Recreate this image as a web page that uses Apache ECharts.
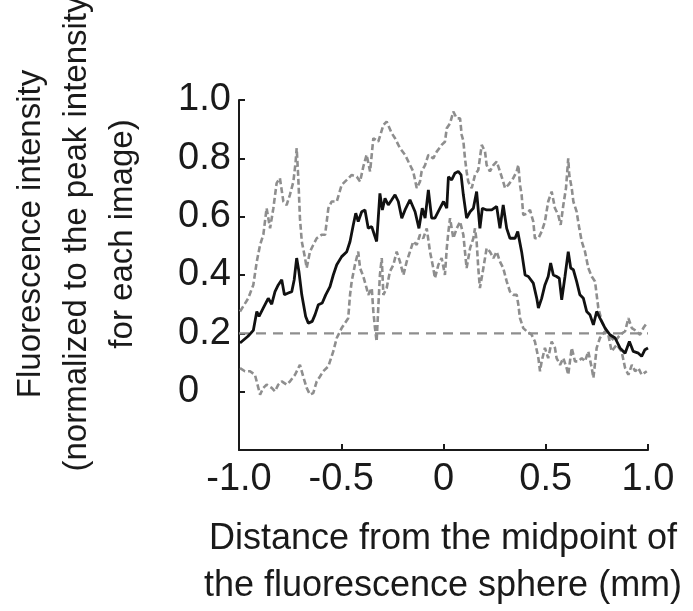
<!DOCTYPE html>
<html>
<head>
<meta charset="utf-8">
<script src="https://cdn.jsdelivr.net/npm/echarts@6/dist/echarts.min.js"></script>
<style>html,body{margin:0;padding:0;background:#fff}#c{width:693px;height:611px}</style>
</head>
<body>
<div id="c"></div>
<script>
// ---- data ----
const xTicks = [-1.0, -0.5, 0, 0.5, 1.0];
const yTicks = [0, 0.2, 0.4, 0.6, 0.8, 1.0];
const thresholdX = [-1, 1];
const thresholdY = [0.2, 0.2];

const meanX = [-0.995,-0.956,-0.930,-0.913,-0.902,-0.881,-0.857,-0.840,-0.824,-0.808,-0.791,-0.778,-0.759,-0.742,-0.730,-0.718,-0.707,-0.693,-0.674,-0.661,-0.642,-0.628,-0.612,-0.593,-0.576,-0.555,-0.539,-0.522,-0.498,-0.473,-0.457,-0.441,-0.429,-0.417,-0.400,-0.384,-0.368,-0.351,-0.338,-0.327,-0.319,-0.311,-0.299,-0.286,-0.270,-0.253,-0.237,-0.221,-0.204,-0.188,-0.164,-0.139,-0.120,-0.104,-0.090,-0.074,-0.058,-0.042,-0.017,0.000,0.016,0.024,0.040,0.056,0.072,0.086,0.097,0.113,0.130,0.146,0.162,0.178,0.190,0.211,0.236,0.260,0.276,0.292,0.309,0.325,0.350,0.363,0.382,0.399,0.415,0.439,0.456,0.464,0.480,0.496,0.512,0.524,0.537,0.553,0.566,0.578,0.594,0.610,0.622,0.635,0.651,0.667,0.684,0.700,0.716,0.733,0.749,0.765,0.790,0.814,0.839,0.863,0.888,0.909,0.928,0.953,0.969,0.985,1.000];
const meanY = [0.167,0.19,0.21,0.275,0.258,0.287,0.32,0.30,0.343,0.366,0.384,0.332,0.338,0.343,0.384,0.458,0.412,0.332,0.258,0.235,0.241,0.264,0.298,0.304,0.332,0.36,0.40,0.435,0.463,0.48,0.515,0.572,0.612,0.583,0.617,0.623,0.56,0.566,0.538,0.515,0.595,0.68,0.623,0.663,0.64,0.658,0.675,0.652,0.595,0.623,0.658,0.617,0.56,0.629,0.595,0.692,0.595,0.595,0.629,0.652,0.629,0.737,0.726,0.749,0.755,0.743,0.675,0.595,0.617,0.629,0.686,0.56,0.629,0.623,0.623,0.635,0.56,0.64,0.56,0.526,0.526,0.549,0.48,0.40,0.395,0.372,0.32,0.287,0.32,0.366,0.395,0.441,0.40,0.395,0.389,0.315,0.395,0.48,0.424,0.418,0.378,0.332,0.32,0.275,0.264,0.229,0.275,0.252,0.218,0.195,0.184,0.15,0.132,0.172,0.138,0.132,0.121,0.144,0.15];

const sampleAX = [-0.995,-0.955,-0.930,-0.913,-0.897,-0.881,-0.865,-0.848,-0.832,-0.816,-0.800,-0.783,-0.767,-0.751,-0.734,-0.723,-0.718,-0.710,-0.702,-0.693,-0.677,-0.669,-0.653,-0.637,-0.620,-0.596,-0.579,-0.563,-0.547,-0.522,-0.498,-0.473,-0.449,-0.424,-0.408,-0.392,-0.376,-0.359,-0.343,-0.319,-0.294,-0.278,-0.253,-0.237,-0.213,-0.188,-0.172,-0.148,-0.131,-0.115,-0.107,-0.090,-0.074,-0.050,-0.033,-0.009,0.007,0.016,0.032,0.048,0.065,0.081,0.089,0.097,0.105,0.113,0.121,0.138,0.154,0.170,0.187,0.203,0.211,0.227,0.244,0.260,0.276,0.292,0.301,0.317,0.341,0.358,0.366,0.374,0.382,0.390,0.407,0.423,0.439,0.447,0.464,0.480,0.496,0.512,0.529,0.545,0.561,0.573,0.586,0.599,0.610,0.615,0.627,0.635,0.651,0.664,0.676,0.692,0.708,0.725,0.741,0.749,0.757,0.774,0.790,0.806,0.822,0.839,0.863,0.888,0.904,0.921,0.945,0.961,0.977,0.994];
const sampleAY = [0.275,0.32,0.366,0.446,0.503,0.538,0.629,0.56,0.629,0.715,0.732,0.652,0.64,0.675,0.72,0.789,0.835,0.732,0.595,0.515,0.458,0.424,0.48,0.503,0.526,0.538,0.538,0.629,0.652,0.652,0.709,0.726,0.743,0.737,0.72,0.772,0.812,0.755,0.869,0.857,0.914,0.926,0.886,0.869,0.835,0.812,0.789,0.755,0.698,0.72,0.755,0.777,0.812,0.80,0.823,0.846,0.857,0.903,0.92,0.96,0.937,0.937,0.88,0.86,0.80,0.755,0.72,0.698,0.743,0.76,0.846,0.823,0.777,0.755,0.777,0.789,0.755,0.72,0.698,0.709,0.732,0.755,0.777,0.709,0.675,0.606,0.61,0.623,0.583,0.526,0.526,0.549,0.583,0.652,0.686,0.629,0.606,0.572,0.64,0.698,0.80,0.743,0.698,0.652,0.617,0.56,0.515,0.48,0.424,0.395,0.378,0.332,0.287,0.241,0.218,0.195,0.184,0.172,0.195,0.207,0.252,0.218,0.207,0.195,0.218,0.235];

const sampleBX = [-0.995,-0.971,-0.946,-0.922,-0.897,-0.881,-0.865,-0.840,-0.824,-0.808,-0.791,-0.767,-0.751,-0.726,-0.702,-0.686,-0.669,-0.653,-0.637,-0.620,-0.604,-0.588,-0.563,-0.539,-0.522,-0.498,-0.466,-0.457,-0.449,-0.433,-0.417,-0.408,-0.392,-0.376,-0.368,-0.351,-0.343,-0.335,-0.327,-0.319,-0.311,-0.302,-0.294,-0.278,-0.262,-0.245,-0.229,-0.213,-0.196,-0.180,-0.164,-0.148,-0.131,-0.115,-0.099,-0.082,-0.066,-0.050,-0.042,-0.025,-0.009,0.007,0.016,0.024,0.032,0.048,0.065,0.081,0.097,0.105,0.113,0.130,0.146,0.154,0.162,0.170,0.178,0.195,0.211,0.227,0.244,0.260,0.276,0.292,0.309,0.325,0.341,0.358,0.366,0.374,0.390,0.407,0.431,0.447,0.464,0.472,0.480,0.496,0.512,0.529,0.545,0.553,0.570,0.586,0.602,0.610,0.627,0.643,0.659,0.676,0.692,0.708,0.725,0.733,0.749,0.765,0.790,0.806,0.822,0.847,0.871,0.888,0.904,0.921,0.937,0.953,0.969,0.994];
const sampleBY = [0.081,0.07,0.07,0.058,-0.01,0.013,0.024,0.013,0.001,0.024,0.035,0.024,0.035,0.058,0.092,0.052,0.013,-0.01,-0.005,0.035,0.052,0.07,0.087,0.138,0.184,0.218,0.252,0.332,0.378,0.435,0.48,0.424,0.395,0.355,0.332,0.355,0.275,0.218,0.172,0.287,0.40,0.458,0.332,0.355,0.412,0.435,0.48,0.446,0.40,0.446,0.48,0.515,0.503,0.538,0.526,0.56,0.48,0.424,0.389,0.435,0.458,0.40,0.492,0.549,0.595,0.526,0.56,0.583,0.538,0.48,0.424,0.492,0.526,0.56,0.515,0.424,0.355,0.424,0.492,0.48,0.458,0.48,0.446,0.424,0.378,0.343,0.332,0.332,0.298,0.252,0.218,0.207,0.195,0.172,0.115,0.07,0.104,0.15,0.115,0.172,0.15,0.115,0.092,0.115,0.081,0.058,0.15,0.104,0.104,0.115,0.104,0.138,0.081,0.047,0.15,0.184,0.207,0.195,0.138,0.161,0.138,0.081,0.058,0.092,0.07,0.081,0.058,0.07];

const yTitle = 'Fluorescence intensity\n(normalized to the peak intensity\nfor each image)';
const xTitle = 'Distance from the midpoint of\nthe fluorescence sphere (mm)';

// ---- chart ----
const pair = (xs, ys) => xs.map((x, i) => [x, ys[i]]);
const FONT = '"Liberation Sans", Arial, sans-serif';
const INK = '#1a1a1a';
const GRAY = '#8e8e8e';

const chart = echarts.init(document.getElementById('c'), null, {renderer: 'canvas'});
chart.setOption({
  animation: false,
  backgroundColor: '#fff',
  grid: {left: 239, right: 45, top: 100, bottom: 161, containLabel: false},
  xAxis: {
    type: 'value', min: xTicks[0], max: xTicks[xTicks.length - 1], interval: 0.5,
    axisLine: {show: true, onZero: false, lineStyle: {color: INK, width: 2}},
    axisTick: {show: true, inside: true, length: 6, lineStyle: {color: INK, width: 2}},
    axisLabel: {
      margin: 11, fontSize: 38, fontFamily: FONT, color: INK,
      formatter: v => Math.abs(v) < 1e-9 ? '0' : v.toFixed(1)
    },
    splitLine: {show: false}
  },
  yAxis: {
    type: 'value', min: -0.2, max: yTicks[yTicks.length - 1], interval: 0.2,
    axisLine: {show: true, onZero: false, lineStyle: {color: INK, width: 2}},
    axisTick: {show: true, inside: true, length: 6, lineStyle: {color: INK, width: 2}},
    axisLabel: {
      margin: 61, align: 'left', fontSize: 38, fontFamily: FONT, color: INK,
      padding: [8, 0, 0, 0],
      formatter: v => v < -1e-9 ? '' : (Math.abs(v) < 1e-9 ? '0' : v.toFixed(1))
    },
    splitLine: {show: false}
  },
  series: [
    {type: 'line', data: pair(thresholdX, thresholdY), showSymbol: false, symbol: 'none',
     lineStyle: {color: GRAY, width: 2.2, type: [10, 7]}, z: 1},
    {type: 'line', data: pair(sampleAX, sampleAY), showSymbol: false, symbol: 'none',
     lineStyle: {color: GRAY, width: 2.6, type: [6, 3]}, z: 2},
    {type: 'line', data: pair(sampleBX, sampleBY), showSymbol: false, symbol: 'none',
     lineStyle: {color: GRAY, width: 2.6, type: [6, 3]}, z: 2},
    {type: 'line', data: pair(meanX, meanY), showSymbol: false, symbol: 'none',
     lineStyle: {color: '#111', width: 2.8}, z: 3}
  ],
  graphic: [
    {type: 'text', x: 77, y: 234, rotation: Math.PI / 2,
     style: {text: yTitle, fontSize: 33, fontFamily: FONT, fill: INK, align: 'center', verticalAlign: 'middle', lineHeight: 46}},
    {type: 'text', x: 443, y: 563,
     style: {text: xTitle, fontSize: 36, fontFamily: FONT, fill: INK, align: 'center', verticalAlign: 'middle', lineHeight: 47}}
  ]
});
</script>
</body>
</html>
